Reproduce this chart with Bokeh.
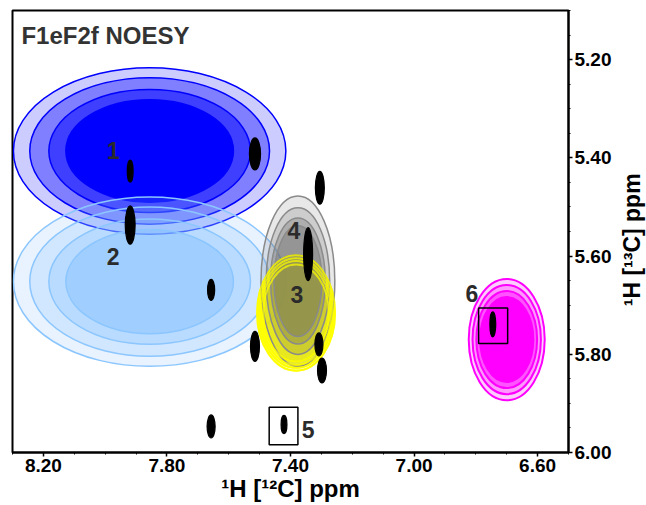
import math
from bokeh.plotting import figure
from bokeh.layouts import row
from bokeh.models import Range1d, FixedTicker, NumeralTickFormatter, Label, ColumnDataSource
from bokeh.core.properties import value
from bokeh.embed import file_html
from bokeh.resources import INLINE

# ---- data -------------------------------------------------------------
# coloured cross-peak groups (drawing order)
peak_ids = ["1", "2", "3", "4", "6"]
peak_x = [7.856, 7.856, 7.382, 7.376, 6.700]     # 1H [12C] ppm
peak_y = [5.386, 5.652, 5.716, 5.651, 5.770]     # 1H [13C] ppm
peak_w = [0.882, 0.882, 0.252, 0.239, 0.246]
peak_h = [0.339, 0.345, 0.235, 0.347, 0.247]

# small black contour peaks
cp_x = [7.919, 7.515, 7.919, 7.657, 7.515, 7.305, 7.343, 7.308, 7.298, 7.657, 7.421, 6.745]
cp_y = [5.427, 5.392, 5.537, 5.669, 5.784, 5.461, 5.596, 5.780, 5.833, 5.947, 5.943, 5.739]
cp_w = [0.019, 0.036, 0.032, 0.023, 0.029, 0.029, 0.029, 0.026, 0.029, 0.026, 0.019, 0.019]
cp_h = [0.045, 0.065, 0.078, 0.043, 0.061, 0.067, 0.108, 0.047, 0.051, 0.047, 0.037, 0.051]

# highlighted boxes (peaks 5 and 6)
box_x = [7.4225, 6.744]
box_y = [5.946, 5.742]
box_w = [0.093, 0.094]
box_h = [0.076, 0.072]

# peak number labels
lab_text = ["1", "2", "3", "4", "5", "6"]
lab_x = [7.974, 7.974, 7.379, 7.389, 7.343, 6.813]
lab_y = [5.386, 5.600, 5.678, 5.547, 5.953, 5.676]

x_ticks = [8.2, 7.8, 7.4, 7.0, 6.6]
x_minor = [8.3, 8.1, 8.0, 7.9, 7.7, 7.6, 7.5, 7.3, 7.2, 7.1, 6.9, 6.8, 6.7, 6.5]
y_ticks = [5.2, 5.4, 5.6, 5.8, 6.0]
y_minor = [5.1, 5.15, 5.25, 5.3, 5.35, 5.45, 5.5, 5.55, 5.65, 5.7, 5.75, 5.85, 5.9, 5.95]

# ---- styles -----------------------------------------------------------
styles = {
    "1": dict(fill="#0000ff", line="#0000ff", alphas=[0.2, 0.375, 0.5, 1.0],
              scales=[1.0, 0.88, 0.74, 0.615], lw=1.5, overlay=False),
    "2": dict(fill="#80bfff", line="#8cc6ff", alphas=[0.18, 0.22, 0.3, 0.45],
              scales=[1.0, 0.88, 0.74, 0.615], lw=1.5, overlay=False),
    "3": dict(fill="#ffff00", line="#ffff00", alphas=[0.35, 0.4, 0.45, 0.6],
              scales=[1.0, 0.95, 0.9, 0.84], lw=2, overlay=True),
    "4": dict(fill="#666666", line="#8a8a8a", alphas=[0.15, 0.2, 0.3, 0.35],
              scales=[1.0, 0.86, 0.74, 0.65], lw=1.5, overlay=False),
    "6": dict(fill="#ff00ff", line="#ff00ff", alphas=[0.2, 0.25, 0.45, 1.0],
              scales=[1.0, 0.9, 0.8, 0.7], lw=2, overlay=False),
}

rings = dict(x=[], y=[], w=[], h=[], fc=[], fa=[], lc=[], lw=[])
over = dict(x=[], y=[], w=[], h=[], lc=[], lw=[])
for pid, px, py, pw, ph in zip(peak_ids, peak_x, peak_y, peak_w, peak_h):
    st = styles[pid]
    for s, a in zip(st["scales"], st["alphas"]):
        rings["x"].append(px)
        rings["y"].append(py)
        rings["w"].append(pw * s)
        rings["h"].append(ph * s)
        rings["fc"].append(st["fill"])
        rings["fa"].append(a)
        rings["lc"].append(st["line"])
        rings["lw"].append(st["lw"])
        if st["overlay"]:
            over["x"].append(px)
            over["y"].append(py)
            over["w"].append(pw * s)
            over["h"].append(ph * s)
            over["lc"].append(st["line"])
            over["lw"].append(st["lw"])

FONT = "Liberation Sans"

p = figure(width=618, height=505,
           x_range=Range1d(8.30, 6.50), y_range=Range1d(6.00, 5.10),
           y_axis_location="right", output_backend="svg", toolbar_location=None,
           min_border_left=12, min_border_top=10, min_border_right=50, min_border_bottom=53)
p.grid.visible = False
p.outline_line_color = "black"
p.outline_line_width = 2
p.background_fill_color = "white"
p.border_fill_color = "white"

p.ellipse(x="x", y="y", width="w", height="h", source=ColumnDataSource(rings),
          fill_color="fc", fill_alpha="fa", line_color="lc", line_width="lw")
p.ellipse(x="x", y="y", width="w", height="h", source=ColumnDataSource(over),
          fill_color=None, line_color="lc", line_width="lw", line_alpha=0.7)

p.ellipse(x=cp_x, y=cp_y, width=cp_w, height=cp_h,
          fill_color="black", line_color="black", line_width=1.2)

p.rect(x=box_x, y=box_y, width=box_w, height=box_h,
       fill_color=None, line_color="black", line_width=1.5)

p.text(x=lab_x, y=lab_y, text=lab_text, text_font=value(FONT), text_font_style="bold",
       text_font_size="23px", text_color="#2b2b2b", text_align="center", text_baseline="middle")

for ax, ticks, minor in ((p.xaxis[0], x_ticks, x_minor), (p.yaxis[0], y_ticks, y_minor)):
    ax.ticker = FixedTicker(ticks=ticks, minor_ticks=minor)
    ax.formatter = NumeralTickFormatter(format="0.00")
    ax.major_label_text_font = FONT
    ax.major_label_text_font_style = "bold"
    ax.major_label_text_font_size = "19px"
    ax.major_label_text_color = "black"
    ax.axis_line_width = 2
    ax.axis_line_color = "black"
    ax.major_tick_line_width = 1.5
    ax.major_tick_line_color = "black"
    ax.minor_tick_line_color = "black"
    ax.major_tick_in = 0
    ax.major_tick_out = 4
    ax.minor_tick_in = 0
    ax.minor_tick_out = 2
    ax.major_label_standoff = 2

xa = p.xaxis[0]
xa.axis_label = "¹H [¹²C] ppm"
xa.axis_label_standoff = 0
xa.axis_label_text_font = FONT
xa.axis_label_text_font_style = "bold"
xa.axis_label_text_font_size = "24px"
xa.axis_label_text_color = "black"

# title inside the frame
p.add_layout(Label(x=8.271, y=5.151, text="F1eF2f NOESY", text_font=FONT,
                   text_font_style="bold", text_font_size="24px", text_color="#333333",
                   text_align="left", text_baseline="alphabetic"))

# narrow strip on the right carrying the vertical axis title (reads bottom-to-top)
ylab = figure(width=28, height=505, x_range=Range1d(0, 28), y_range=Range1d(0, 505),
              output_backend="svg", toolbar_location=None, min_border=0,
              x_axis_location=None, y_axis_location=None)
ylab.outline_line_color = None
ylab.grid.visible = False
ylab.text(x=[13], y=[243], text=["¹H [¹³C] ppm"], angle=math.pi / 2,
          text_font=value(FONT), text_font_style="bold", text_font_size="23px",
          text_color="black", text_align="center", text_baseline="middle")

layout = row(p, ylab, spacing=0)
open("out.html", "w").write(file_html(layout, INLINE))
